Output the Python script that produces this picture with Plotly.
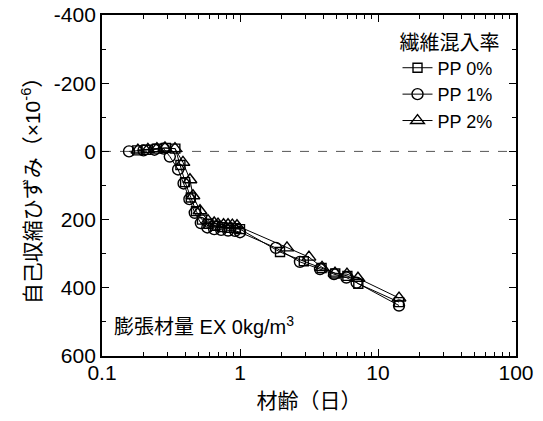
import plotly.graph_objects as go

days0 = [0.18, 0.21, 0.25, 0.29, 0.34, 0.37, 0.40, 0.44, 0.48, 0.53, 0.59, 0.66, 0.74, 0.83, 0.93, 1.0, 1.95, 2.9, 3.9, 4.9, 6.0, 7.2, 14.2]
vals0 = [-3, -5, -8, -10, -8, 40, 90, 135, 175, 200, 212, 218, 222, 224, 225, 228, 295, 322, 342, 358, 365, 388, 442]

days1 = [0.157, 0.2, 0.24, 0.28, 0.31, 0.356, 0.39, 0.43, 0.47, 0.52, 0.58, 0.65, 0.73, 0.82, 0.92, 1.0, 1.82, 2.72, 3.8, 4.8, 5.9, 7.0, 14.2]
vals1 = [0, -3, -5, -8, 15, 53, 94, 140, 180, 210, 223, 228, 230, 232, 233, 237, 283, 324, 345, 360, 370, 385, 452]

days2 = [0.182, 0.215, 0.25, 0.286, 0.338, 0.386, 0.434, 0.456, 0.513, 0.586, 0.65, 0.693, 0.76, 0.819, 0.88, 0.951, 2.19, 3.16, 3.93, 4.88, 5.96, 7.16, 14.2]
vals2 = [-4, -6, -8, -10, -8, 32, 83, 130, 174, 203, 210, 213, 215, 215, 216, 218, 283, 310, 340, 357, 360, 372, 430]

names = ["PP 0%", "PP 1%", "PP 2%"]
symbols = ["square-open", "circle-open", "triangle-up-open"]
sizes = [9, 11, 12]

xtickvals = [0.1, 1, 10, 100]
xticktext = ["0.1", "1", "10", "100"]
ytickvals = [-400, -200, 0, 200, 400, 600]
yticktext = ["-400", "-200", "0", "200", "400", "600"]

FONT = "Liberation Sans, Arial, Noto Sans CJK JP"

fig = go.Figure()
for d, v, n, s, sz in zip([days0, days1, days2], [vals0, vals1, vals2], names, symbols, sizes):
    fig.add_trace(go.Scatter(
        x=d, y=v, name=n, mode="lines+markers",
        line=dict(color="black", width=1),
        marker=dict(symbol=s, size=sz, color="black", line=dict(width=1.4, color="black")),
    ))

fig.add_shape(type="line", xref="paper", yref="y", x0=0, x1=1, y0=0, y1=0,
              line=dict(color="#555555", width=1, dash="dash"), layer="below")

fig.add_annotation(xref="paper", yref="paper", x=0.025, y=0.09, xanchor="left", yanchor="middle",
                   text="膨張材量 EX 0kg/m<sup>3</sup>", showarrow=False,
                   font=dict(size=20, color="black", family=FONT))

fig.update_layout(
    width=535, height=413,
    margin=dict(l=94, r=27, t=7, b=65),
    plot_bgcolor="white", paper_bgcolor="white",
    font=dict(family=FONT, size=21, color="black"),
    showlegend=True,
    legend=dict(
        x=0.965, y=0.975, xanchor="right", yanchor="top",
        bgcolor="rgba(0,0,0,0)",
        title=dict(text="繊維混入率", font=dict(size=20, family=FONT)),
        font=dict(size=18, family=FONT),
        tracegroupgap=0, itemwidth=30,
    ),
    xaxis=dict(
        type="log", range=[-1, 2], automargin=False,
        tickvals=xtickvals, ticktext=xticktext,
        ticks="inside", ticklen=7, tickwidth=1.3, tickcolor="black",
        showline=True, linecolor="black", linewidth=1.8, mirror="ticks",
        showgrid=False, zeroline=False, ticklabeloverflow="allow",
        ticklabelstandoff=-3,
        tickfont=dict(size=21),
        minor=dict(ticks="inside", ticklen=4, tickcolor="black", tickwidth=1,
                   tickvals=[0.2, 0.3, 0.4, 0.5, 0.6, 0.7, 0.8, 0.9,
                             2, 3, 4, 5, 6, 7, 8, 9,
                             20, 30, 40, 50, 60, 70, 80, 90], showgrid=False),
        title=dict(text="材齢（日）", font=dict(size=21), standoff=10),
    ),
    yaxis=dict(
        range=[600, -400], automargin=False,
        tickvals=ytickvals, ticktext=yticktext,
        ticks="inside", ticklen=7, tickwidth=1.3, tickcolor="black",
        showline=True, linecolor="black", linewidth=1.8, mirror="ticks",
        showgrid=False, zeroline=False, ticklabeloverflow="allow",
        tickfont=dict(size=21),
        minor=dict(ticks="inside", ticklen=4, tickcolor="black",
                   tickvals=[-300, -100, 100, 300, 500], showgrid=False),
        title=dict(text="自己収縮ひずみ（×10<sup>-6</sup>）", font=dict(size=21), standoff=8),
    ),
)

fig.write_html("out.html")
